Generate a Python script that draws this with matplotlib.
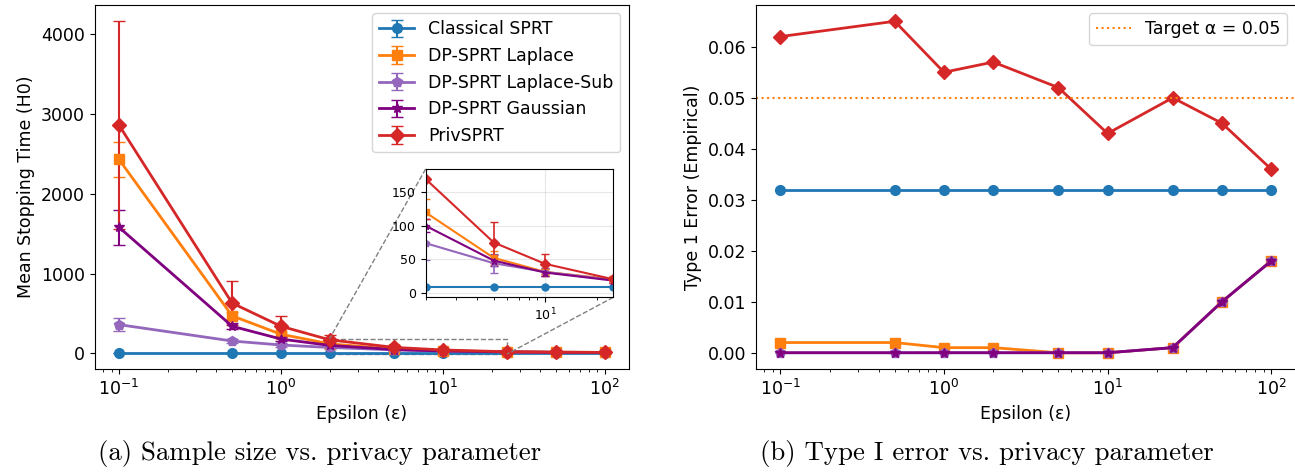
import matplotlib
matplotlib.use("Agg")
import matplotlib.pyplot as plt
from mpl_toolkits.axes_grid1.inset_locator import mark_inset

# ---------------- data ----------------
epsilons = [0.1, 0.5, 1, 2, 5, 10, 25, 50, 100]
methods = ["Classical SPRT", "DP-SPRT Laplace", "DP-SPRT Laplace-Sub",
           "DP-SPRT Gaussian", "PrivSPRT"]

# mean stopping time under H0
time_classical = [9, 9, 9, 9, 9, 9, 9, 9, 9]
time_laplace = [2430, 470, 240, 120, 52, 31, 20, 15, 12]
time_laplace_sub = [360, 155, 105, 74, 44, 31, 19, 14, 12]
time_gaussian = [1580, 340, 180, 100, 48, 30, 18, 13, 11]
time_priv = [2860, 630, 340, 170, 75, 43, 20, 15, 12]

# half-width of error bars
err_classical = [1, 1, 1, 1, 1, 1, 1, 1, 1]
err_laplace = [220, 45, 25, 20, 10, 6, 4, 3, 2]
err_laplace_sub = [85, 30, 20, 25, 14, 6, 3, 2, 2]
err_gaussian = [220, 40, 25, 10, 8, 5, 3, 2, 2]
err_priv = [1300, 280, 130, 60, 30, 15, 5, 3, 2]

# empirical type 1 error
type1_classical = [0.032] * 9
type1_laplace = [0.002, 0.002, 0.001, 0.001, 0.0, 0.0, 0.001, 0.010, 0.018]
type1_laplace_sub = [0.0, 0.0, 0.0, 0.0, 0.0, 0.0, 0.001, 0.010, 0.018]
type1_gaussian = [0.0, 0.0, 0.0, 0.0, 0.0, 0.0, 0.001, 0.010, 0.018]
type1_priv = [0.062, 0.065, 0.055, 0.057, 0.052, 0.043, 0.050, 0.045, 0.036]
alpha_target = 0.05

colors = ["tab:blue", "tab:orange", "tab:purple", "purple", "tab:red"]
markers = ["o", "s", "p", "*", "D"]

times = [time_classical, time_laplace, time_laplace_sub, time_gaussian, time_priv]
errs = [err_classical, err_laplace, err_laplace_sub, err_gaussian, err_priv]
type1 = [type1_classical, type1_laplace, type1_laplace_sub, type1_gaussian, type1_priv]

FS = 12.5

fig = plt.figure(figsize=(12.95, 4.75), dpi=100)
ax1 = fig.add_axes([0.0731, 0.2225, 0.4126, 0.7676])
ax2 = fig.add_axes([0.5836, 0.2225, 0.4170, 0.7676])

# --------- (a) stopping time ---------
for name, y, e, c, m in zip(methods, times, errs, colors, markers):
    ax1.errorbar(epsilons, y, yerr=e, label=name, color=c, marker=m,
                 markersize=7, linewidth=2, capsize=4, elinewidth=1.5)
ax1.set_xscale("log")
ax1.set_xlabel("Epsilon (ε)", fontsize=FS)
ax1.set_ylabel("Mean Stopping Time (H0)", fontsize=FS)
ax1.tick_params(labelsize=FS)
ax1.legend(loc="upper right", fontsize=FS)

# inset zoom
axins = fig.add_axes([0.3287, 0.3741, 0.1449, 0.2701])
for y, e, c, m in zip(times, errs, colors, markers):
    axins.errorbar(epsilons, y, yerr=e, color=c, marker=m, markersize=5,
                   linewidth=1.5, capsize=3, elinewidth=1.2)
axins.set_xscale("log")
axins.set_xlim(2, 25)
axins.set_ylim(-7, 185)
axins.set_yticks([0, 50, 100, 150])
axins.grid(True, alpha=0.3)
axins.tick_params(labelsize=9)
mark_inset(ax1, axins, loc1=2, loc2=4, fc="none", ec="gray", ls="--", lw=1)

# --------- (b) type 1 error ---------
for y, c, m in zip(type1, colors, markers):
    ax2.plot(epsilons, y, color=c, marker=m, markersize=7, linewidth=2)
ax2.axhline(alpha_target, color="tab:orange", linestyle=":", linewidth=1.5,
            label=f"Target α = {alpha_target}")
ax2.set_xscale("log")
ax2.set_xlabel("Epsilon (ε)", fontsize=FS)
ax2.set_ylabel("Type 1 Error (Empirical)", fontsize=FS)
ax2.tick_params(labelsize=FS)
ax2.legend(loc="upper right", fontsize=FS)

# captions
fig.text(0.247, 0.032, "(a) Sample size vs. privacy parameter",
         ha="center", fontsize=19.3, family="cmr10")
fig.text(0.762, 0.032, "(b) Type I error vs. privacy parameter",
         ha="center", fontsize=19.3, family="cmr10")

fig.savefig("out.png", dpi=100)
